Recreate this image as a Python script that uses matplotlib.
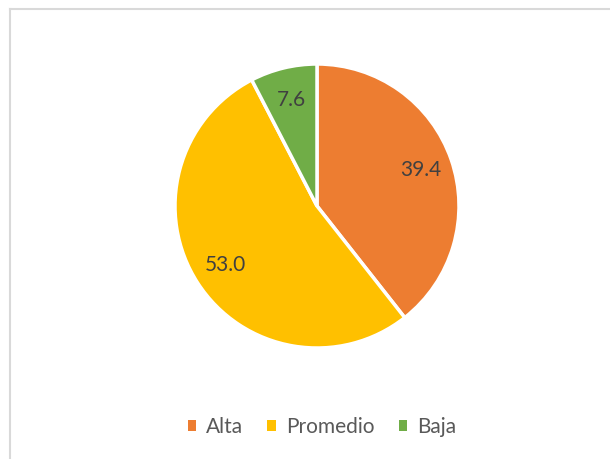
import matplotlib
matplotlib.use("Agg")
import matplotlib.pyplot as plt
from matplotlib.lines import Line2D
from matplotlib.patches import Patch

categories = ["Alta", "Promedio", "Baja"]
values = [39.4, 53.0, 7.6]
colors = ["#ED7D31", "#FFC000", "#70AD47"]

plt.rcParams['font.family'] = ['Lato', 'DejaVu Sans']

W, H = 610, 459
fig = plt.figure(figsize=(W/100, H/100), dpi=100)
cx, cy, r = 317, 206, 142
ax = fig.add_axes([(cx - r)/W, (H - cy - r)/H, 2*r/W, 2*r/H])

wedges, texts, autotexts = ax.pie(
    values, colors=colors, startangle=90, counterclock=False,
    autopct=lambda p: f"{p:.1f}", pctdistance=0.77,
    wedgeprops=dict(edgecolor="white", linewidth=2.5),
    textprops=dict(fontsize=15, color="#404040"))
ax.set_aspect('equal')
ax.set_xlim(-1, 1); ax.set_ylim(-1, 1)
ax.axis('off')

# chart border
fig.add_artist(Line2D([10/W, 10/W], [0, 1 - 9/H], transform=fig.transFigure, color="#D9D9D9", lw=1.5))
fig.add_artist(Line2D([10/W, 1], [1 - 9/H, 1 - 9/H], transform=fig.transFigure, color="#D9D9D9", lw=1.5))

handles = [Patch(facecolor=c, edgecolor='none') for c in colors]
fig.legend(handles, categories, loc='center', bbox_to_anchor=(322/W, 1 - 427/H),
           ncol=3, frameon=False, fontsize=15, handlelength=0.4, handleheight=0.4,
           handletextpad=0.5, columnspacing=1.15, labelcolor="#595959")

fig.savefig("out.png", dpi=100)
